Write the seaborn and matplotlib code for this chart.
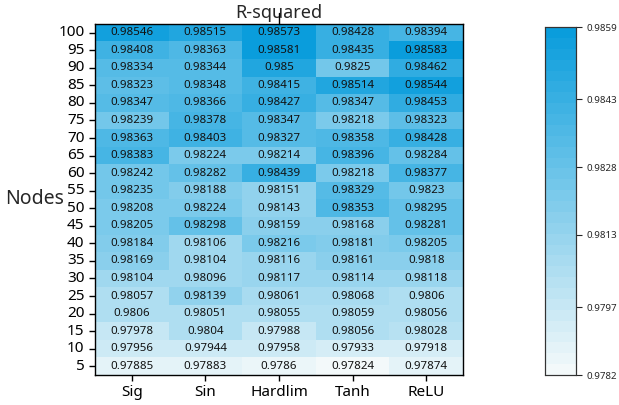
import numpy as np
import pandas as pd
import matplotlib
matplotlib.use("Agg")
import matplotlib.pyplot as plt
from matplotlib.colors import LinearSegmentedColormap
import seaborn as sns

# Hidden-layer sizes (rows, top to bottom) and activation functions (columns)
nodes = [100, 95, 90, 85, 80, 75, 70, 65, 60, 55, 50, 45, 40, 35, 30, 25, 20, 15, 10, 5]
activations = ["Sig", "Sin", "Hardlim", "Tanh", "ReLU"]

sig = [0.98546, 0.98408, 0.98334, 0.98323, 0.98347, 0.98239, 0.98363, 0.98383, 0.98242, 0.98235,
       0.98208, 0.98205, 0.98184, 0.98169, 0.98104, 0.98057, 0.9806, 0.97978, 0.97956, 0.97885]
sin = [0.98515, 0.98363, 0.98344, 0.98348, 0.98366, 0.98378, 0.98403, 0.98224, 0.98282, 0.98188,
       0.98224, 0.98298, 0.98106, 0.98104, 0.98096, 0.98139, 0.98051, 0.9804, 0.97944, 0.97883]
hardlim = [0.98573, 0.98581, 0.985, 0.98415, 0.98427, 0.98347, 0.98327, 0.98214, 0.98439, 0.98151,
           0.98143, 0.98159, 0.98216, 0.98116, 0.98117, 0.98061, 0.98055, 0.97988, 0.97958, 0.9786]
tanh = [0.98428, 0.98435, 0.9825, 0.98514, 0.98347, 0.98218, 0.98358, 0.98396, 0.98218, 0.98329,
        0.98353, 0.98168, 0.98181, 0.98161, 0.98114, 0.98068, 0.98059, 0.98056, 0.97933, 0.97824]
relu = [0.98394, 0.98583, 0.98462, 0.98544, 0.98453, 0.98323, 0.98428, 0.98284, 0.98377, 0.9823,
        0.98295, 0.98281, 0.98205, 0.9818, 0.98118, 0.9806, 0.98056, 0.98028, 0.97918, 0.97874]

cbar_ticks = [0.9782, 0.9797, 0.9813, 0.9828, 0.9843, 0.9859]

df = pd.DataFrame({"Sig": sig, "Sin": sin, "Hardlim": hardlim, "Tanh": tanh, "ReLU": relu},
                  index=nodes)[activations]
labels = df.map(lambda v: f"{v:g}")

sns.set_style("white")
plt.rcParams["font.family"] = ["Noto Sans", "DejaVu Sans"]

cmap = LinearSegmentedColormap.from_list("blues", ["#f3f9fa", "#0a9ddc"], N=32)

fig = plt.figure(figsize=(6.19, 4.05), dpi=100)
ax = fig.add_axes([0.1535, 0.074, 0.5945, 0.867])
cax = fig.add_axes([0.880, 0.074, 0.050, 0.859])

sns.heatmap(df, ax=ax, cbar_ax=cax, cmap=cmap, vmin=0.9782, vmax=0.9859,
            annot=labels, fmt="", annot_kws={"fontsize": 8.3, "color": "#111111"},
            cbar_kws={"ticks": cbar_ticks})

for s in ax.spines.values():
    s.set_visible(True)
    s.set_color("black")
    s.set_linewidth(1.0)

ax.set_title("R-squared", fontsize=13, pad=4)
ax.set_ylabel("Nodes", fontsize=14, rotation=0, va="center", ha="center")
ax.yaxis.set_label_coords(-0.163, 0.5)
ax.set_xlabel("")
ax.tick_params(axis="both", which="major", length=4, width=1, direction="out",
               bottom=True, left=True, colors="black", labelsize=11)
ax.set_yticklabels([str(n) for n in nodes], rotation=0)
ax.set_xticklabels(activations, rotation=0)

# single tick mark on the top edge at the centre column
ax.plot([2.5, 2.5], [1.0, 1.03], color="black", lw=1,
        transform=ax.get_xaxis_transform(), clip_on=False, zorder=5)

cax.tick_params(length=4, width=0.8, labelsize=7, direction="out", right=True)
cax.set_yticklabels([f"{t:.4f}" for t in cbar_ticks])
for s in cax.spines.values():
    s.set_visible(True)
    s.set_color("#333333")
    s.set_linewidth(0.8)

fig.savefig("out.png", dpi=100)
